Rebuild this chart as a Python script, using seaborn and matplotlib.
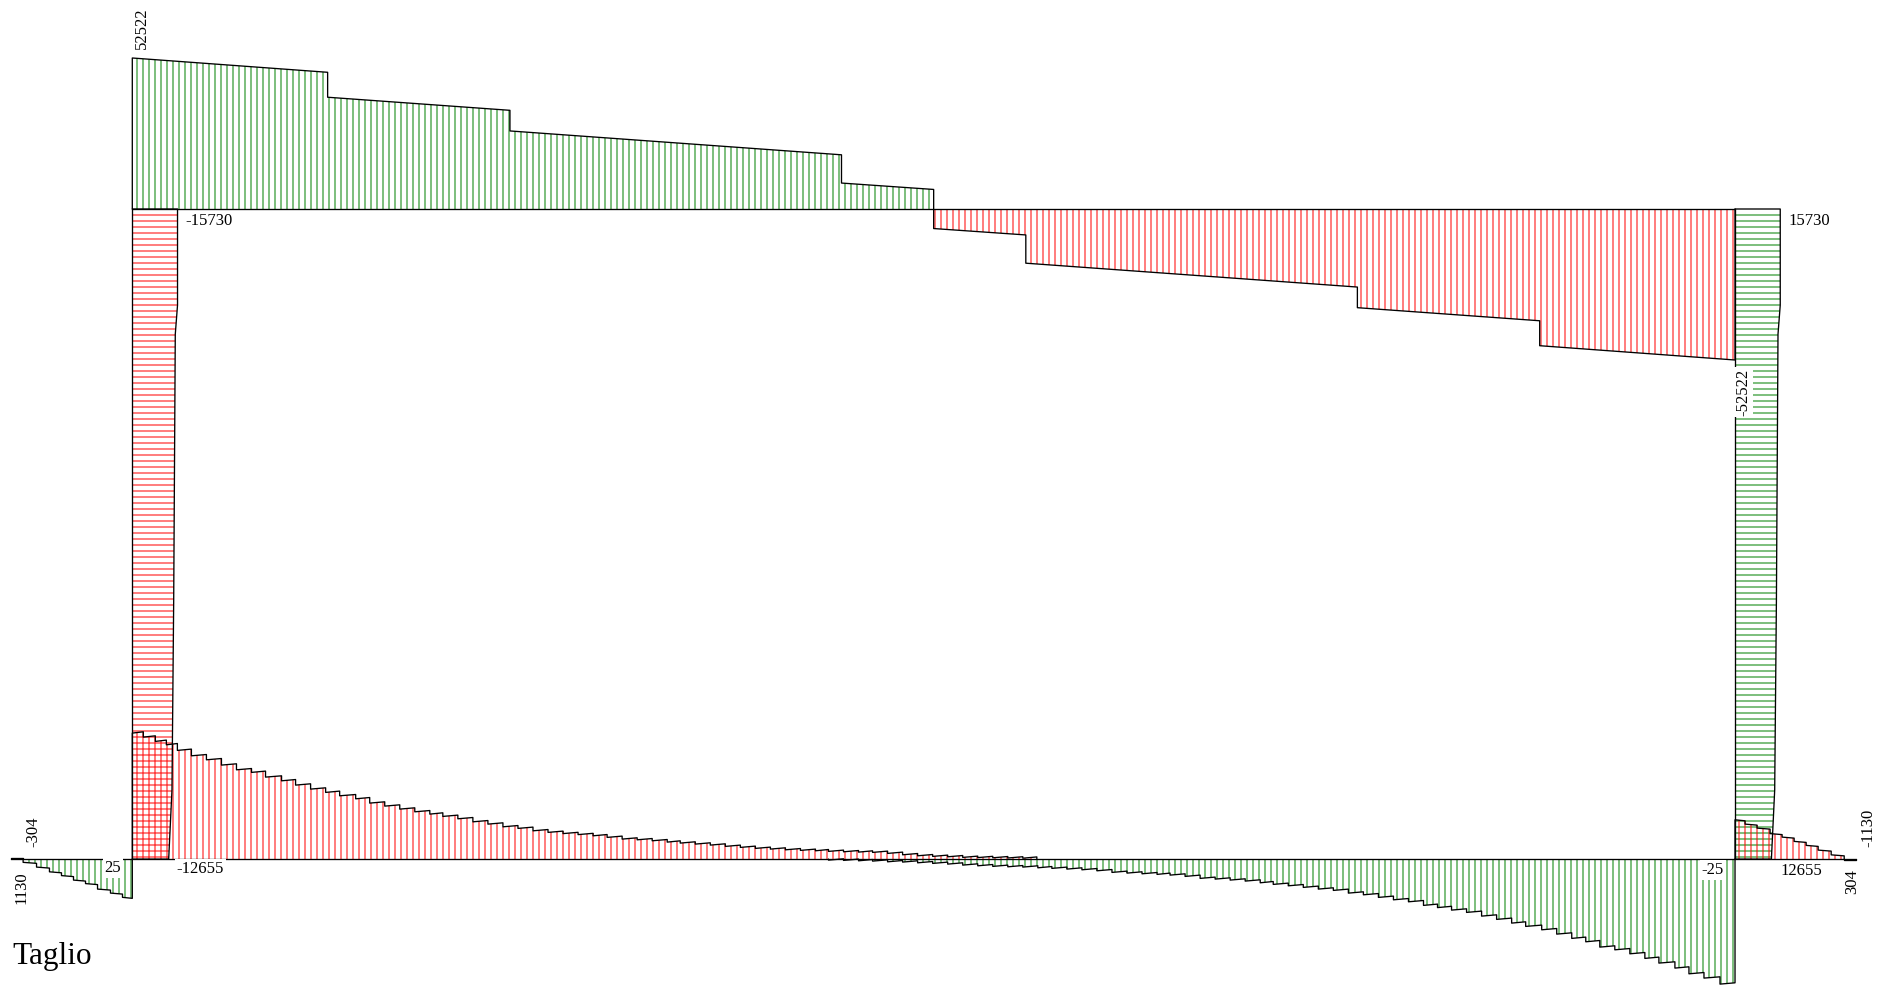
import numpy as np
import matplotlib
matplotlib.use("Agg")
import matplotlib.pyplot as plt
import seaborn as sns

# ---------------- shear values (daN), stations in metres ----------------
SPAN = 16.0      # beam span between column axes
HEIGHT = 6.49    # column height

# top beam: piecewise linear, jumps under the point loads
beam_s = [0.0, 1.95, 1.95, 3.77, 3.77, 7.08, 7.08, 8.00, 8.00,
          8.92, 8.92, 12.23, 12.23, 14.05, 14.05, 16.0]
beam_v = [52522, 47550, 38875, 34325, 27150, 18850, 9025, 6800, -6800,
          -9025, -18850, -27150, -34325, -38875, -47550, -52522]

# columns, stations measured down from the beam
col_t = [0.0, 0.96, 1.25, 3.90, 5.80, 6.49]
col_left_v = [-15730, -15730, -14950, -14400, -13800, -12655]
col_right_v = [15730, 15730, 14950, 14400, 13800, 12655]

# foundation beam, stepped diagram (one step per spring), left part
found_a_edges = [0.00, 0.11, 0.23, 0.34, 0.45, 0.59, 0.74, 0.89, 1.04, 1.19,
                 1.33, 1.49, 1.63, 1.78, 1.93, 2.07, 2.23, 2.37, 2.52, 2.67,
                 2.82, 2.97, 3.10, 3.25, 3.40, 3.55, 3.70, 3.85, 4.00, 4.15,
                 4.30, 4.45, 4.60, 4.74, 4.89, 5.04, 5.19, 5.34, 5.47, 5.62,
                 5.77, 5.92, 6.07, 6.22, 6.37, 6.52, 6.67, 6.82, 6.95, 7.10,
                 7.25, 7.39, 7.54, 7.69, 7.84, 7.99, 8.14, 8.29, 8.44, 8.59,
                 8.74, 8.89, 9.03]
found_a_v = [-43830, -42430, -40940, -39760, -37810, -35930, -34540, -32700,
             -31060, -30160, -28520, -27230, -25740, -24350, -23200, -22020,
             -20970, -19480, -18430, -17390, -16450, -15650, -14850, -14020,
             -12970, -12170, -11230, -10680, -9840, -9290, -8870, -8520,
             -8100, -7550, -6960, -6710, -6370, -5910, -5570, -5220, -4870,
             -4420, -4070, -3720, -3480, -3230, -3030, -2890, -2680, -2540,
             -2430, -2330, -1980, -1500, -1150, -940, -800, -590, -520, -450,
             -380, -310]

# foundation beam, right part
found_b_edges = [6.95, 7.10, 7.25, 7.39, 7.54, 7.69, 7.84, 7.99, 8.14, 8.29,
                 8.44, 8.59, 8.74, 8.89, 9.04, 9.18, 9.33, 9.48, 9.63, 9.78,
                 9.93, 10.08, 10.23, 10.36, 10.51, 10.66, 10.81, 10.96, 11.11,
                 11.26, 11.39, 11.54, 11.69, 11.84, 11.99, 12.14, 12.29, 12.44,
                 12.59, 12.74, 12.89, 13.03, 13.17, 13.32, 13.47, 13.62, 13.77,
                 13.91, 14.07, 14.22, 14.37, 14.51, 14.65, 14.80, 14.95, 15.10,
                 15.24, 15.40, 15.54, 15.69, 15.85, 16.00]
found_b_v = [350, 450, 590, 700, 940, 1040, 1290, 1500, 1740, 2090, 2330, 2540,
             2680, 2780, 3030, 3230, 3480, 3720, 4070, 4630, 4870, 5110, 5320,
             5570, 6020, 6710, 6960, 7300, 7650, 8240, 8800, 9290, 9840, 10430,
             10890, 11830, 12420, 13320, 14160, 14850, 16100, 16870, 17740,
             18540, 19830, 20970, 22260, 23410, 24590, 26090, 27580, 28760,
             30610, 31550, 32940, 34540, 36170, 37910, 39900, 41390, 43480]
found_drift = -450   # change of shear inside each step

# cantilevers of the foundation
cant_l_edges = [-1.09, -0.956, -0.827, -0.707, -0.587, -0.467, -0.347,
                -0.218, -0.098, 0.0]
cant_l_v = [1130, 2780, 4420, 5740, 7300, 8520, 10430, 11820, 13300]
cant_r_edges = [16.0, 16.10, 16.22, 16.35, 16.47, 16.59, 16.71, 16.83,
                16.96, 17.09]
cant_r_v = [-13670, -12170, -10780, -8870, -7650, -6160, -4770, -3130, -1480]
cant_drift = 350

tip_l_edges = [-1.21, -1.09]
tip_l_v = [-304]
tip_r_edges = [17.09, 17.21]
tip_r_v = [304]

# ---------------- drawing setup ----------------
W, H = 1894, 988
PX_M = 100.17            # drawing units per metre
VX = 151.0 / 52522       # drawing units per daN
X0, Y0 = 132.3, 209.0    # left column axis / beam axis
XR = X0 + SPAN * PX_M
YB = Y0 + HEIGHT * PX_M

GREEN = (0.0, 0.5, 0.0, 0.5)
RED = (1.0, 0.0, 0.0, 0.5)
HATCH_W = 1.45
EDGE_W = 0.95
PITCH = 6.0

sns.set_theme(style="white")
plt.rcParams["font.family"] = ["Liberation Serif", "DejaVu Serif"]

fig = plt.figure(figsize=(W / 100, H / 100), dpi=100)
ax = fig.add_axes([0, 0, 1, 1])

grid_x = X0 + 4.7 + PITCH * np.arange(-30, 300)
grid_y = Y0 + 5.7 + PITCH * np.arange(0, 120)


def stair_outline(edges, values, drift):
    s, v = [edges[0]], [0.0]
    for a, b, val in zip(edges[:-1], edges[1:], values):
        s += [a, b]
        v += [val, val + drift]
    s.append(edges[-1])
    v.append(0.0)
    return np.array(s, float), np.array(v, float)


def stair_eval(edges, values, drift, s):
    e = np.asarray(edges, float)
    vals = np.asarray(values, float)
    i = np.clip(np.searchsorted(e, s, side="right") - 1, 0, len(vals) - 1)
    return vals[i] + drift * (s - e[i]) / (e[i + 1] - e[i])


def edge(x, y):
    sns.lineplot(x=x, y=y, sort=False, estimator=None, color="black",
                 linewidth=EDGE_W, ax=ax, zorder=3)


def horizontal(s_out, v_out, s0, s1, fn, base, sign):
    """sign=+1: positive drawn upward, -1: positive drawn downward."""
    edge(X0 + s_out * PX_M, base - sign * v_out * VX)
    xs = grid_x[(grid_x > X0 + s0 * PX_M + 0.8) & (grid_x < X0 + s1 * PX_M - 0.8)]
    v = fn((xs - X0) / PX_M)
    keep = np.abs(v * VX) > 0.6
    xs, v = xs[keep], v[keep]
    cols = [GREEN if val > 0 else RED for val in v]
    ax.vlines(xs, base, base - sign * v * VX, colors=cols,
              linewidth=HATCH_W, zorder=1)


def vertical(t, v, colx, sign):
    t = np.asarray(t, float)
    v = np.asarray(v, float)
    t_out = np.r_[t[0], t, t[-1]]
    v_out = np.r_[0.0, v, 0.0]
    edge(colx + sign * v_out * VX, Y0 + t_out * PX_M)
    ys = grid_y[grid_y < YB - 0.8]
    vv = np.interp((ys - Y0) / PX_M, t, v)
    cols = [GREEN if val > 0 else RED for val in vv]
    ax.hlines(ys, colx, colx + sign * vv * VX, colors=cols,
              linewidth=HATCH_W, zorder=1)


# top beam
bs = np.array(beam_s, float)
bv = np.array(beam_v, float)
horizontal(np.r_[bs[0], bs, bs[-1]], np.r_[0.0, bv, 0.0], 0.0, SPAN,
           lambda s: np.interp(s, bs, bv), Y0, +1)

# columns (left: negative to the right, right: positive to the right)
vertical(col_t, col_left_v, X0, -1)
vertical(col_t, col_right_v, XR, +1)

# foundation level: positive drawn downward
for edges, vals, drift in [(found_a_edges, found_a_v, found_drift),
                           (found_b_edges, found_b_v, found_drift),
                           (cant_l_edges, cant_l_v, cant_drift),
                           (cant_r_edges, cant_r_v, cant_drift),
                           (tip_l_edges, tip_l_v, 0.0),
                           (tip_r_edges, tip_r_v, 0.0)]:
    so, vo = stair_outline(edges, vals, drift)
    horizontal(so, vo, edges[0], edges[-1],
               lambda s, e=edges, v=vals, d=drift: stair_eval(e, v, d, s),
               YB, -1)

# member axes
edge(np.array([X0, XR]), np.array([Y0, Y0]))
edge(np.array([X0, X0]), np.array([Y0, YB]))
edge(np.array([XR, XR]), np.array([Y0, YB]))
edge(X0 + np.array([tip_l_edges[0], tip_r_edges[-1]]) * PX_M,
     np.array([YB, YB]))

# value labels
box = dict(facecolor="white", edgecolor="none", pad=1.2)
lab = dict(fontsize=12, color="black", zorder=5, bbox=box)
top_px = beam_v[0] * VX
ax.text(X0 + 10, Y0 - top_px - 9, f"{beam_v[0]}", rotation=90,
        ha="center", va="bottom", **lab)
ax.text(XR + 8.5, 392, f"{beam_v[-1]}", rotation=90,
        ha="center", va="center", **lab)
ax.text(X0 - col_left_v[0] * VX + 8, Y0 + 12, f"{col_left_v[0]}",
        ha="left", va="center", **lab)
ax.text(XR + col_right_v[0] * VX + 8, Y0 + 12, f"{col_right_v[0]}",
        ha="left", va="center", **lab)
ax.text(X0 - col_left_v[-1] * VX + 8, YB + 9.5, f"{col_left_v[-1]}",
        ha="left", va="center", **lab)
ax.text(XR + col_right_v[-1] * VX + 9, YB + 12, f"{col_right_v[-1]}",
        ha="left", va="center", **lab)
ax.text(X0 - 11, YB + 9, "25", ha="right", va="center", **lab)
ax.text(XR - 11, YB + 11, "-25", ha="right", va="center", **lab)
ax.text(21, YB + 29, f"{cant_l_v[0]}", rotation=90,
        ha="center", va="center", **lab)
ax.text(33.5, YB - 27, f"{tip_l_v[0]}", rotation=90,
        ha="center", va="center", **lab)
ax.text(1868.5, YB - 31, f"{cant_r_v[-1] + cant_drift}", rotation=90,
        ha="center", va="center", **lab)
ax.text(1852, YB + 22, f"{tip_r_v[0]}", rotation=90,
        ha="center", va="center", **lab)

ax.text(12, 964, "Taglio", fontsize=22.5, ha="left", va="baseline",
        color="black")

ax.set_xlim(0, W)
ax.set_ylim(H, 0)
ax.axis("off")
fig.savefig("out.png", dpi=100, facecolor="white")
